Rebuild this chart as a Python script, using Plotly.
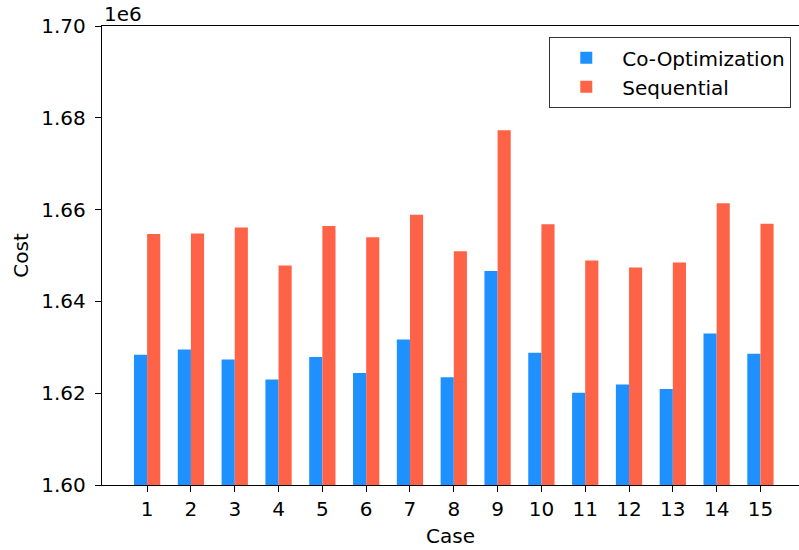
import plotly.graph_objects as go

cases = [str(i) for i in range(1, 16)]
co_opt = [1628400, 1629500, 1627350, 1623000, 1627900, 1624400, 1631700, 1623500,
          1646600, 1628800, 1620100, 1621900, 1620900, 1633000, 1628600]
sequential = [1654700, 1654800, 1656100, 1647800, 1656400, 1654000, 1658900, 1650900,
              1677300, 1656800, 1648900, 1647400, 1648500, 1661400, 1656900]
y_ticks = [1.60e6, 1.62e6, 1.64e6, 1.66e6, 1.68e6, 1.70e6]
y_tick_labels = ["1.60", "1.62", "1.64", "1.66", "1.68", "1.70"]

pos = list(range(len(cases)))
FONT = "DejaVu Sans"
FS = 20

fig = go.Figure()
fig.add_trace(go.Bar(x=pos, y=co_opt, base=0, width=0.3, offset=-0.3,
                     name="Co-Optimization", marker=dict(color="#1E90FF", line=dict(width=0))))
fig.add_trace(go.Bar(x=pos, y=sequential, base=0, width=0.3, offset=0,
                     name="Sequential", marker=dict(color="#FF6347", line=dict(width=0))))

fig.update_layout(
    width=799, height=550,
    margin=dict(l=102, r=0, t=26, b=65),
    plot_bgcolor="white", paper_bgcolor="white",
    font=dict(family=FONT, size=FS, color="black"),
    barmode="overlay",
    legend=dict(x=0.9885, y=0.976, xanchor="right", yanchor="top",
                bordercolor="#333333", borderwidth=1.3, bgcolor="rgba(255,255,255,0.8)",
                font=dict(size=FS), itemwidth=62, tracegroupgap=0),
    xaxis=dict(range=[-1.03, 14.88], tickvals=pos, ticktext=cases,
               showgrid=False, zeroline=False, showline=True, linecolor="black", linewidth=1.4,
               mirror=True, ticks="outside", ticklen=6, tickwidth=1.4, tickcolor="black",
               ticklabelstandoff=0,
               title=dict(text="Case", standoff=8, font=dict(size=FS))),
    yaxis=dict(range=[1.60e6, 1.70e6], tickvals=y_ticks, ticktext=y_tick_labels,
               showgrid=False, zeroline=False, showline=True, linecolor="black", linewidth=1.4,
               ticks="outside", ticklen=6, tickwidth=1.4, tickcolor="black",
               ticklabelstandoff=5,
               title=dict(text="Cost", standoff=7, font=dict(size=FS))),
    annotations=[dict(text="1e6", x=0, y=1, xref="paper", yref="paper",
                      xanchor="left", yanchor="bottom", showarrow=False,
                      font=dict(size=FS), yshift=-2)],
)

fig.write_html("out.html", config={"displayModeBar": False},
               post_script="document.body.style.margin='0px';")
